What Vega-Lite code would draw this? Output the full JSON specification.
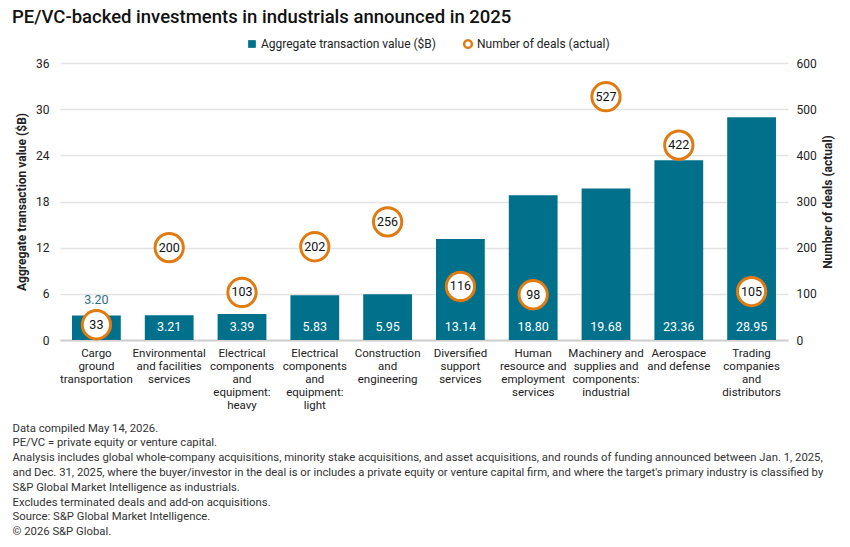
{
  "$schema": "https://vega.github.io/schema/vega-lite/v6.json",
  "autosize": {"type": "none"},
  "width": 728,
  "height": 277,
  "padding": {"left": 60, "top": 63, "right": 62, "bottom": 207},
  "background": "white",
  "config": {
    "font": "Roboto",
    "view": {"stroke": null},
    "axis": {"labelFont": "Roboto", "titleFont": "Roboto", "labelColor": "#222", "titleColor": "#222"}
  },
  "title": {
    "text": "PE/VC-backed investments in industrials announced in 2025",
    "anchor": "start",
    "frame": "group",
    "dx": -48,
    "dy": -8,
    "fontSize": 18.5,
    "fontWeight": 500,
    "color": "#111",
    "font": "Roboto"
  },
  "data": {
    "values": [
      {"industry": "Cargo\nground\ntransportation", "value": 3.20, "deals": 33},
      {"industry": "Environmental\nand facilities\nservices", "value": 3.21, "deals": 200},
      {"industry": "Electrical\ncomponents\nand\nequipment:\nheavy", "value": 3.39, "deals": 103},
      {"industry": "Electrical\ncomponents\nand\nequipment:\nlight", "value": 5.83, "deals": 202},
      {"industry": "Construction\nand\nengineering", "value": 5.95, "deals": 256},
      {"industry": "Diversified\nsupport\nservices", "value": 13.14, "deals": 116},
      {"industry": "Human\nresource and\nemployment\nservices", "value": 18.80, "deals": 98},
      {"industry": "Machinery and\nsupplies and\ncomponents:\nindustrial", "value": 19.68, "deals": 527},
      {"industry": "Aerospace\nand defense", "value": 23.36, "deals": 422},
      {"industry": "Trading\ncompanies\nand\ndistributors", "value": 28.95, "deals": 105}
    ]
  },
  "encoding": {
    "x": {
      "field": "industry",
      "type": "nominal",
      "sort": null,
      "scale": {"paddingInner": 0.33, "paddingOuter": 0.165},
      "axis": {
        "labelAngle": 0,
        "labelExpr": "split(datum.label, '\\n')",
        "labelFontSize": 11.5,
        "labelLineHeight": 13,
        "labelPadding": 7,
        "labelBaseline": "top",
        "labelColor": "#222",
        "ticks": false,
        "domain": true,
        "domainColor": "#cfcfcf",
        "domainWidth": 2,
        "labelLimit": 200,
        "title": [
          "Data compiled May 14, 2026.",
          "PE/VC = private equity or venture capital.",
          "Analysis includes global whole-company acquisitions, minority stake acquisitions, and asset acquisitions, and rounds of funding announced between Jan. 1, 2025,",
          "and Dec. 31, 2025, where the buyer/investor in the deal is or includes a private equity or venture capital firm, and where the target's primary industry is classified by",
          "S&P Global Market Intelligence as industrials.",
          "Excludes terminated deals and add-on acquisitions.",
          "Source: S&P Global Market Intelligence.",
          "© 2026 S&P Global."
        ],
        "titleFontSize": 11.3,
        "titleFontWeight": "normal",
        "titleColor": "#333",
        "titleLineHeight": 14.8,
        "titleAlign": "left",
        "titleAnchor": "start",
        "titleBaseline": "top",
        "titleX": -48,
        "titleY": 82
      }
    }
  },
  "layer": [
    {
      "layer": [
        {
          "mark": {"type": "bar", "fill": "#00708B"},
          "encoding": {
            "y": {
              "field": "value",
              "type": "quantitative",
              "scale": {"domain": [0, 36], "nice": false},
              "axis": {
                "values": [0, 6, 12, 18, 24, 30, 36],
                "title": "Aggregate transaction value ($B)",
                "titleFontSize": 12,
                "titleFontWeight": "bold",
                "titlePadding": 7,
                "labelFontSize": 12,
                "labelPadding": 11,
                "ticks": false,
                "domain": false,
                "grid": true,
                "gridColor": "#e3e3e3",
                "gridWidth": 1.5
              }
            },
            "fill": {
              "datum": "Aggregate transaction value ($B)",
              "scale": {"range": ["#00708B"]},
              "legend": {
                "orient": "none",
                "legendX": 186,
                "legendY": -25,
                "title": null,
                "labelFontSize": 12,
                "labelColor": "#222",
                "labelFont": "Roboto",
                "labelLimit": 300,
                "symbolType": "square",
                "symbolSize": 60,
                "labelOffset": 3
              }
            }
          }
        },
        {
          "transform": [{"filter": "datum.value > 3.205"}],
          "mark": {"type": "text", "color": "white", "fontSize": 12.5, "baseline": "middle", "dy": -13},
          "encoding": {
            "y": {"datum": 0, "type": "quantitative", "scale": {"domain": [0, 36], "nice": false}},
            "text": {"field": "value", "type": "quantitative", "format": ".2f"}
          }
        },
        {
          "transform": [{"filter": "datum.value <= 3.205"}],
          "mark": {"type": "text", "color": "#2f6f86", "fontSize": 12.5, "baseline": "bottom", "dy": -8},
          "encoding": {
            "y": {"field": "value", "type": "quantitative", "scale": {"domain": [0, 36], "nice": false}},
            "text": {"field": "value", "type": "quantitative", "format": ".2f"}
          }
        }
      ]
    },
    {
      "layer": [
        {
          "mark": {"type": "point", "shape": "circle", "size": 800, "fill": "white", "fillOpacity": 1, "strokeWidth": 3, "opacity": 1},
          "encoding": {
            "stroke": {
              "datum": "Number of deals (actual)",
              "scale": {"range": ["#E07B12"]},
              "legend": {
                "orient": "none",
                "legendX": 402,
                "legendY": -25,
                "title": null,
                "labelFontSize": 12,
                "labelColor": "#222",
                "labelFont": "Roboto",
                "labelLimit": 300,
                "symbolType": "circle",
                "symbolSize": 60,
                "symbolStrokeWidth": 2.5,
                "symbolFillColor": "white",
                "labelOffset": 3
              }
            }
          }
        },
        {
          "mark": {"type": "text", "color": "#111", "fontSize": 12.5, "baseline": "middle"},
          "encoding": {
            "text": {"field": "deals", "type": "quantitative"}
          }
        }
      ],
      "encoding": {
        "y": {
          "field": "deals",
          "type": "quantitative",
          "scale": {"domain": [0, 600], "nice": false},
          "axis": {
            "orient": "right",
            "values": [0, 100, 200, 300, 400, 500, 600],
            "title": "Number of deals (actual)",
            "titleAngle": 270,
            "titleBaseline": "bottom",
            "titleFontSize": 12,
            "titleFontWeight": "bold",
            "titlePadding": 18,
            "labelFontSize": 12,
            "labelPadding": 8,
            "ticks": false,
            "domain": false,
            "grid": false
          }
        }
      }
    }
  ],
  "resolve": {"scale": {"y": "independent"}}
}
